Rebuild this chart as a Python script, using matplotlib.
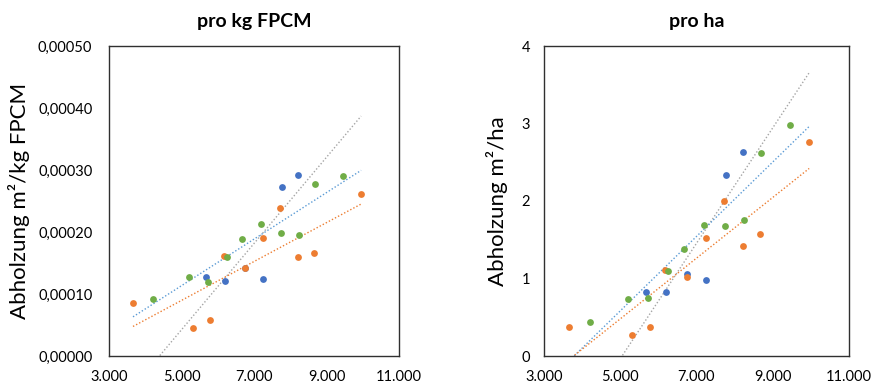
import numpy as np
import matplotlib
matplotlib.use("Agg")
import matplotlib.pyplot as plt
from matplotlib.ticker import FuncFormatter

plt.rcParams['font.family'] = ['Lato', 'DejaVu Sans']

# Blue series
blue_x = [5676, 6209, 6761, 7257, 7763, 8223]
blue_kg = [0.000128, 0.000121, 0.000142, 0.000125, 0.000273, 0.000292]
blue_ha = [0.825, 0.825, 1.053, 0.98, 2.33, 2.63]

# Orange series
orange_x = [3662, 5317, 5786, 6163, 6760, 7257, 7717, 8223, 8664, 9955]
orange_kg = [0.000086, 0.0000446, 0.0000586, 0.000162, 0.000142, 0.000191,
             0.000238, 0.000159, 0.000166, 0.000261]
orange_ha = [0.37, 0.266, 0.378, 1.108, 1.023, 1.521, 2.006, 1.418, 1.572, 2.767]

# Green series
green_x = [4214, 5198, 5740, 6246, 6678, 7193, 7736, 8241, 8683, 9446]
green_kg = [0.0000914, 0.000128, 0.000119, 0.000159, 0.000189, 0.000213,
            0.000199, 0.000195, 0.000278, 0.00029]
green_ha = [0.438, 0.739, 0.752, 1.10, 1.383, 1.684, 1.676, 1.753, 2.625, 2.977]

xticks = [3000, 5000, 7000, 9000, 11000]

c_blue = '#4472C4'
c_orange = '#ED7D31'
c_green = '#70AD47'

fig = plt.figure(figsize=(8.8, 3.92), dpi=100)
ax1 = fig.add_axes([109 / 880, 36 / 392, 290 / 880, 310 / 392])
ax2 = fig.add_axes([544 / 880, 36 / 392, 305 / 880, 310 / 392])

all_x = blue_x + orange_x + green_x
x_line = np.array([min(all_x), max(all_x)])


def draw(ax, by, oy, gy):
    # trendlines (linear fit), drawn across the full data range
    for xs, ys, col in [(blue_x, by, '#A5A5A5'), (green_x, gy, '#5B9BD5'),
                        (orange_x, oy, c_orange)]:
        k, d = np.polyfit(xs, ys, 1)
        ax.plot(x_line, k * x_line + d, linestyle=(0, (1, 1.5)), color=col,
                lw=1, zorder=2)
    ax.scatter(blue_x, by, s=24, color=c_blue, zorder=3, linewidths=0)
    ax.scatter(orange_x, oy, s=24, color=c_orange, zorder=3, linewidths=0)
    ax.scatter(green_x, gy, s=24, color=c_green, zorder=3, linewidths=0)
    ax.set_xlim(3000, 11000)
    ax.set_xticks(xticks)
    ax.xaxis.set_major_formatter(FuncFormatter(lambda v, p: f"{v:,.0f}".replace(',', '.')))
    ax.tick_params(length=0, labelsize=10.5)
    ax.tick_params(axis='x', pad=10)
    for s in ax.spines.values():
        s.set_color('#303030')
        s.set_linewidth(1)


draw(ax1, blue_kg, orange_kg, green_kg)
ax1.set_ylim(0, 0.0005)
ax1.set_yticks(np.arange(0, 0.00051, 0.0001))
ax1.yaxis.set_major_formatter(FuncFormatter(lambda v, p: f"{v:.5f}".replace('.', ',')))
ax1.tick_params(axis='y', pad=12)
ax1.set_title('pro kg FPCM', fontsize=14, fontweight='bold', pad=14)
ax1.set_ylabel('Abholzung m²/kg FPCM', fontsize=16, labelpad=6)

draw(ax2, blue_ha, orange_ha, green_ha)
ax2.set_ylim(0, 4)
ax2.set_yticks([0, 1, 2, 3, 4])
ax2.tick_params(axis='y', pad=10)
ax2.set_title('pro ha', fontsize=14, fontweight='bold', pad=14)
ax2.set_ylabel('Abholzung m²/ha', fontsize=16, labelpad=10)

fig.savefig('out.png', dpi=100)
